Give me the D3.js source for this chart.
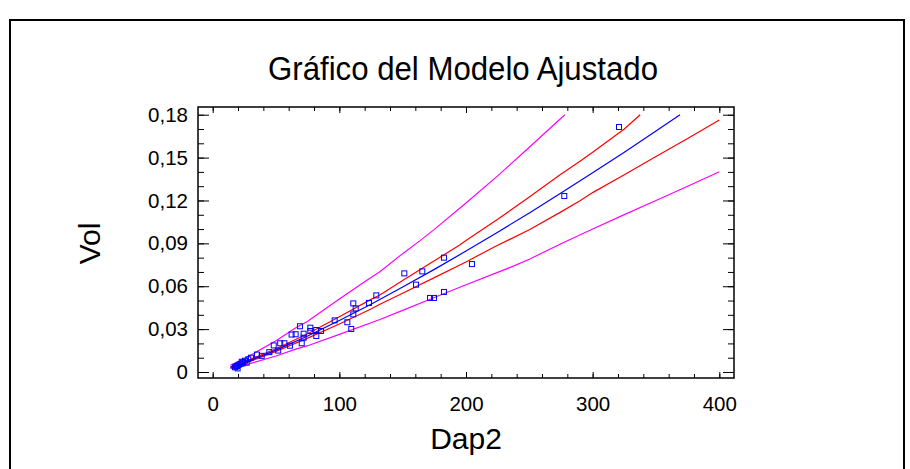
<!DOCTYPE html>
<html>
<head>
<meta charset="utf-8">
<script src="https://cdn.jsdelivr.net/npm/d3@7"></script>
<style>
  body { margin: 0; background: #fff; }
  text { font-family: "Liberation Sans", Arial, sans-serif; }
</style>
</head>
<body>
<div id="chart"></div>
<script>
// observed points (Dap2, Vol)
var dap2 = [320.8, 277.6, 182.6, 204.7, 165.5, 151.3, 160.5, 182.6, 171.6, 174.7,
  129.2, 123.4, 111.0, 112.9, 111.0, 106.3, 109.4, 96.3,
  68.9, 77.1, 77.1, 81.8, 85.5, 81.8, 71.8, 71.8, 70.3,
  65.5, 62.3, 61.0, 56.6, 53.3, 48.2, 51.7, 44.7, 38.7, 35.0, 30.2, 28.1, 25.5,
  22.9, 21.8, 19.2, 17.6, 19.7, 24.0, 20.5, 26.8, 18.5, 23.5];
var vol = [0.1714, 0.1231, 0.0800, 0.0755, 0.0704, 0.0690, 0.0611, 0.0560, 0.0518, 0.0518,
  0.0536, 0.0483, 0.0480, 0.0445, 0.0403, 0.0348, 0.0301, 0.0361,
  0.0320, 0.0310, 0.0287, 0.0294, 0.0287, 0.0252, 0.0268, 0.0240, 0.0201,
  0.0264, 0.0262, 0.0184, 0.0201, 0.0201, 0.0186, 0.0150, 0.0139, 0.0113, 0.0122, 0.0100, 0.0089, 0.0079,
  0.0072, 0.0056, 0.0042, 0.0033, 0.0025, 0.0068, 0.0050, 0.0065, 0.0038, 0.0060];

// fitted model
var fitX = [14, 25, 50, 75, 100, 125, 150, 175, 200, 225, 250, 275, 300, 325, 350, 369];
var fitY = [0.0033, 0.0065, 0.0153, 0.0252, 0.0360, 0.0474, 0.0594, 0.0718, 0.0846, 0.0978, 0.1113, 0.1253, 0.1394, 0.1538, 0.1686, 0.1800];

// confidence limits
var confHiX = [14, 25, 50, 75, 100, 125, 132, 150, 175, 195, 200, 225, 250, 274, 290, 300, 325, 337.5];
var confHiY = [0.0037, 0.0071, 0.0163, 0.0268, 0.0387, 0.0508, 0.0539, 0.0640, 0.0778, 0.0888, 0.0920, 0.1068, 0.1224, 0.1378, 0.1475, 0.1537, 0.1700, 0.1800];
var confLoX = [14, 25, 50, 75, 100, 125, 132, 150, 175, 200, 223, 250, 274, 290, 300, 325, 350, 375, 400];
var confLoY = [0.0030, 0.0060, 0.0144, 0.0237, 0.0336, 0.0441, 0.0474, 0.0551, 0.0660, 0.0770, 0.0878, 0.0995, 0.1115, 0.1198, 0.1255, 0.1380, 0.1507, 0.1634, 0.1763];

// prediction limits
var predHiX = [14, 25, 50, 65, 75, 100, 122, 132, 150, 164, 175, 200, 225, 250, 278];
var predHiY = [0.0048, 0.0093, 0.0219, 0.0306, 0.0355, 0.0511, 0.0644, 0.0702, 0.0828, 0.0921, 0.0998, 0.1182, 0.1372, 0.1572, 0.1800];
var predLoX = [14, 25, 50, 65, 75, 100, 132, 150, 175, 200, 235, 250, 275, 300, 325, 350, 375, 400];
var predLoY = [0.0024, 0.0047, 0.0112, 0.0158, 0.0184, 0.0263, 0.0367, 0.0431, 0.0521, 0.0610, 0.0732, 0.0789, 0.0897, 0.1001, 0.1101, 0.1200, 0.1300, 0.1401];

var xMajor = [0, 100, 200, 300, 400];
var xMinor = d3.range(0, 401, 20);
var yMajor = [0, 0.03, 0.06, 0.09, 0.12, 0.15, 0.18];
var yMinor = d3.range(0, 0.1801, 0.01);

var width = 910,
  height = 469,
  svg = d3
    .select("#chart")
    .append("svg")
    .attr("width", width)
    .attr("height", height);

var margin = { top: 107, left: 198 },
  iwidth = 536,
  iheight = 271;

svg.append("rect")
  .attr("x", 10).attr("y", 20)
  .attr("width", 894).attr("height", 480)
  .attr("fill", "none").attr("stroke", "black").attr("stroke-width", 2);

svg.append("text")
  .attr("x", 463).attr("y", 80)
  .attr("text-anchor", "middle")
  .attr("font-size", 33)
  .attr("textLength", 390)
  .attr("lengthAdjust", "spacingAndGlyphs")
  .text("Gráfico del Modelo Ajustado");

var g = svg.append("g")
  .attr("transform", `translate(${margin.left}, ${margin.top})`);

var x = d3.scaleLinear().domain([-11.6, 411.6]).range([0, iwidth]);
var y = d3.scaleLinear().domain([-0.0042, 0.1854]).range([iheight, 0]);

var fmt = function(d) { return d === 0 ? "0" : d3.format(".2f")(d).replace(".", ","); };

function styleAxis(sel) {
  sel.select(".domain").remove();
  sel.selectAll("line").attr("stroke", "black");
  sel.selectAll("text").attr("font-size", 20.5).attr("fill", "black")
    .style("font-family", '"Liberation Sans", Arial, sans-serif');
}

// bottom
g.append("g").attr("transform", `translate(0,${iheight})`)
  .call(d3.axisBottom(x).tickValues(xMinor).tickSize(-4).tickFormat(""))
  .call(styleAxis);
g.append("g").attr("transform", `translate(0,${iheight})`)
  .call(d3.axisBottom(x).tickValues(xMajor).tickSize(-6).tickPadding(18).tickFormat(d3.format("d")))
  .call(styleAxis);
// top
g.append("g")
  .call(d3.axisTop(x).tickValues(xMinor).tickSize(-4).tickFormat(""))
  .call(styleAxis);
g.append("g")
  .call(d3.axisTop(x).tickValues(xMajor).tickSize(-6).tickFormat(""))
  .call(styleAxis);
// left
g.append("g")
  .call(d3.axisLeft(y).tickValues(yMinor).tickSize(-6).tickFormat(""))
  .call(styleAxis);
g.append("g")
  .call(d3.axisLeft(y).tickValues(yMajor).tickSize(-11).tickPadding(10).tickFormat(fmt))
  .call(styleAxis);
// right
g.append("g").attr("transform", `translate(${iwidth},0)`)
  .call(d3.axisRight(y).tickValues(yMinor).tickSize(-6).tickFormat(""))
  .call(styleAxis);
g.append("g").attr("transform", `translate(${iwidth},0)`)
  .call(d3.axisRight(y).tickValues(yMajor).tickSize(-11).tickFormat(""))
  .call(styleAxis);

g.append("rect")
  .attr("width", iwidth).attr("height", iheight)
  .attr("fill", "none").attr("stroke", "black").attr("stroke-width", 1.5);

var line = d3.line().x(function(d){ return x(d[0]); }).y(function(d){ return y(d[1]); });

function drawCurve(xs, ys, color) {
  g.append("path")
    .datum(d3.zip(xs, ys))
    .attr("fill", "none")
    .attr("stroke", color)
    .attr("stroke-width", 1.2)
    .attr("d", line);
}
drawCurve(predHiX, predHiY, "#ff00ff");
drawCurve(predLoX, predLoY, "#ff00ff");
drawCurve(confHiX, confHiY, "#ff0000");
drawCurve(confLoX, confLoY, "#ff0000");
drawCurve(fitX, fitY, "#0000ff");

g.selectAll("rect.pt")
  .data(d3.zip(dap2, vol))
  .enter()
  .append("rect")
  .attr("class", "pt")
  .attr("x", function(d){ return x(d[0]) - 2.5; })
  .attr("y", function(d){ return y(d[1]) - 2.5; })
  .attr("width", 5)
  .attr("height", 5)
  .attr("fill", "none")
  .attr("stroke", "#0000ff")
  .attr("stroke-width", 1);

svg.append("text")
  .attr("x", 466).attr("y", 449)
  .attr("text-anchor", "middle")
  .attr("font-size", 30)
  .text("Dap2");

svg.append("text")
  .attr("transform", "translate(100,243.5) rotate(-90)")
  .attr("text-anchor", "middle")
  .attr("font-size", 30)
  .text("Vol");
</script>
</body>
</html>
